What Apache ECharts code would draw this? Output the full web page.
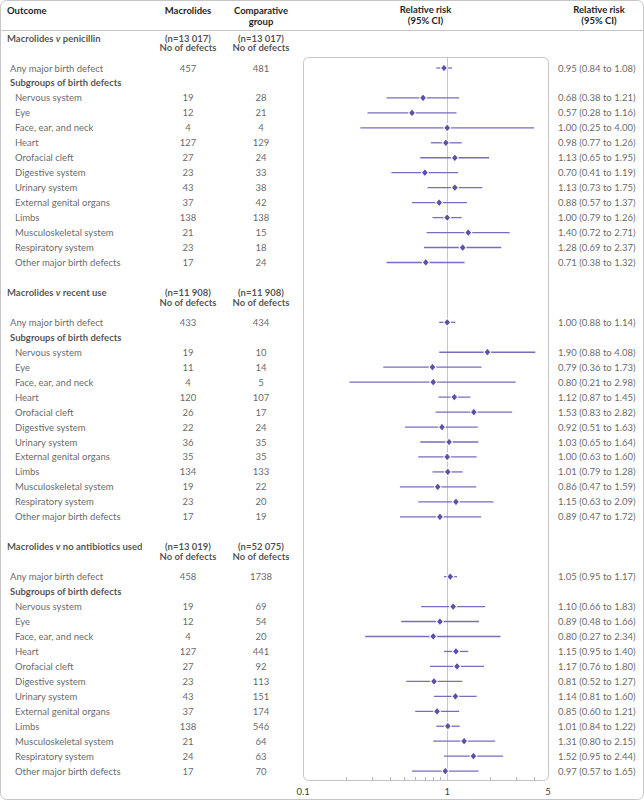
<!DOCTYPE html>
<html><head><meta charset="utf-8">
<script src="https://cdn.jsdelivr.net/npm/echarts@6/dist/echarts.min.js"></script>
<style>html,body{margin:0;padding:0;background:#fff}#c{width:644px;height:800px}</style>
</head><body><div id="c"></div>
<script>
// ---------------- DATA ----------------
const columnHeaders = ['Outcome', 'Macrolides', 'Comparative\ngroup', 'Relative risk\n(95% CI)', 'Relative risk\n(95% CI)'];
const sectionTitles = ['penicillin', 'recent use', 'no antibiotics used'];
const nMacrolides = ['13 017', '11 908', '13 019'];
const nComparative = ['13 017', '11 908', '52 075'];
const outcomes = ['Any major birth defect', 'Subgroups of birth defects', 'Nervous system', 'Eye',
  'Face, ear, and neck', 'Heart', 'Orofacial cleft', 'Digestive system', 'Urinary system',
  'External genital organs', 'Limbs', 'Musculoskeletal system', 'Respiratory system', 'Other major birth defects'];

// Macrolides v penicillin
const penMacro = [457, null, 19, 12, 4, 127, 27, 23, 43, 37, 138, 21, 23, 17];
const penComp  = [481, null, 28, 21, 4, 129, 24, 33, 38, 42, 138, 15, 18, 24];
const penRR = [0.95, null, 0.68, 0.57, 1.00, 0.98, 1.13, 0.70, 1.13, 0.88, 1.00, 1.40, 1.28, 0.71];
const penLo = [0.84, null, 0.38, 0.28, 0.25, 0.77, 0.65, 0.41, 0.73, 0.57, 0.79, 0.72, 0.69, 0.38];
const penHi = [1.08, null, 1.21, 1.16, 4.00, 1.26, 1.95, 1.19, 1.75, 1.37, 1.26, 2.71, 2.37, 1.32];

// Macrolides v recent use
const recMacro = [433, null, 19, 11, 4, 120, 26, 22, 36, 35, 134, 19, 23, 17];
const recComp  = [434, null, 10, 14, 5, 107, 17, 24, 35, 35, 133, 22, 20, 19];
const recRR = [1.00, null, 1.90, 0.79, 0.80, 1.12, 1.53, 0.92, 1.03, 1.00, 1.01, 0.86, 1.15, 0.89];
const recLo = [0.88, null, 0.88, 0.36, 0.21, 0.87, 0.83, 0.51, 0.65, 0.63, 0.79, 0.47, 0.63, 0.47];
const recHi = [1.14, null, 4.08, 1.73, 2.98, 1.45, 2.82, 1.63, 1.64, 1.60, 1.28, 1.59, 2.09, 1.72];

// Macrolides v no antibiotics used
const noaMacro = [458, null, 19, 12, 4, 127, 27, 23, 43, 37, 138, 21, 24, 17];
const noaComp  = [1738, null, 69, 54, 20, 441, 92, 113, 151, 174, 546, 64, 63, 70];
const noaRR = [1.05, null, 1.10, 0.89, 0.80, 1.15, 1.17, 0.81, 1.14, 0.85, 1.01, 1.31, 1.52, 0.97];
const noaLo = [0.95, null, 0.66, 0.48, 0.27, 0.95, 0.76, 0.52, 0.81, 0.60, 0.84, 0.80, 0.95, 0.57];
const noaHi = [1.17, null, 1.83, 1.66, 2.34, 1.40, 1.80, 1.27, 1.60, 1.21, 1.22, 2.15, 2.44, 1.65];

const axisTickLabels = [0.1, 1, 5];
const minorTickValues = [0.2, 0.3, 0.4, 0.5, 0.6, 0.7, 0.8, 0.9, 2, 3, 4];

// ---------------- LAYOUT / STYLE ----------------
const FONT = 'Lato';
const FS = 9.5;
const TXT = '#3d3d3d', BOLD = '#1f1f1f';
const LINE_C = '#7a6bc1', DOT_C = '#5f4fa8';
const GRAY = '#c6c6c6';
const W = 644, H = 800;
const ROW_Y0 = 68, ROW_H = 14.96;
const PLOT = { left: 303, top: 57, width: 245, height: 723 };
const SECTION_ROWS = 17;
const slotAt = y => (y - ROW_Y0) / ROW_H;
const COL = { title: 7, outcome: 10, sub: 15, macro: 188, comp: 261, ci: 558 };

const sections = [
  { title: sectionTitles[0], nM: nMacrolides[0], nC: nComparative[0], macro: penMacro, comp: penComp, rr: penRR, lo: penLo, hi: penHi },
  { title: sectionTitles[1], nM: nMacrolides[1], nC: nComparative[1], macro: recMacro, comp: recComp, rr: recRR, lo: recLo, hi: recHi },
  { title: sectionTitles[2], nM: nMacrolides[2], nC: nComparative[2], macro: noaMacro, comp: noaComp, rr: noaRR, lo: noaLo, hi: noaHi }
];

const ciData = [], rrData = [];
const leftItems = [], centerItems = [], ciTextItems = [], nItems = [];
sections.forEach((s, si) => {
  const base = si * SECTION_ROWS;
  leftItems.push({ x: COL.title, slot: base - 2, text: '{b|Macrolides }{bi|v}{b| ' + s.title + '}' });
  nItems.push({ x: COL.macro, slot: base - 2, text: '{n|(n=' + s.nM + ')}\n{n|No of defects}' });
  nItems.push({ x: COL.comp, slot: base - 2, text: '{n|(n=' + s.nC + ')}\n{n|No of defects}' });
  outcomes.forEach((o, r) => {
    const slot = base + r;
    if (r === 1) { leftItems.push({ x: COL.outcome, slot, text: '{b|' + o + '}' }); return; }
    leftItems.push({ x: r === 0 ? COL.outcome : COL.sub, slot, text: '{r|' + o + '}' });
    centerItems.push({ x: COL.macro, slot, text: String(s.macro[r]) });
    centerItems.push({ x: COL.comp, slot, text: String(s.comp[r]) });
    ciTextItems.push({ x: COL.ci, slot, text: s.rr[r].toFixed(2) + ' (' + s.lo[r].toFixed(2) + ' to ' + s.hi[r].toFixed(2) + ')' });
    ciData.push([s.lo[r], s.hi[r], slot]);
    rrData.push([s.rr[r], slot]);
  });
});

const rich = {
  r: { fontFamily: FONT, fontSize: FS, color: TXT },
  b: { fontFamily: FONT, fontSize: FS, color: BOLD, fontWeight: 'bold' },
  bi: { fontFamily: FONT, fontSize: FS, color: BOLD, fontWeight: 'bold', fontStyle: 'italic' },
  n: { fontFamily: FONT, fontSize: FS, color: BOLD, fontWeight: 'bold', lineHeight: 9.6, align: 'center' }
};

function textSeries(items, labelOpts) {
  return {
    type: 'scatter', xAxisIndex: 1, yAxisIndex: 1, symbolSize: 0, silent: true, clip: false, z: 5,
    data: items.map(it => [it.x, it.slot]),
    label: Object.assign({ show: true, formatter: p => items[p.dataIndex].text, rich,
      fontFamily: FONT, fontSize: FS, color: TXT }, labelOpts)
  };
}

const chart = echarts.init(document.getElementById('c'), null, { renderer: 'svg' });
chart.setOption({
  animation: false,
  backgroundColor: '#fff',
  grid: [
    { left: PLOT.left, top: PLOT.top, width: PLOT.width, height: PLOT.height },
    { left: 0, top: 0, width: W, height: H }
  ],
  xAxis: [
    { gridIndex: 0, type: 'log', logBase: 10, min: 0.1, max: 5, position: 'bottom',
      axisLine: { show: false, onZero: false }, splitLine: { show: false },
      axisTick: { show: true, inside: true, length: 3, customValues: minorTickValues, lineStyle: { color: '#b5b5b5' } },
      axisLabel: { customValues: axisTickLabels, formatter: v => String(v), margin: 6,
        fontFamily: FONT, fontSize: FS, color: TXT } },
    { gridIndex: 1, type: 'value', min: 0, max: W, show: false }
  ],
  yAxis: [
    { gridIndex: 0, type: 'value', inverse: true, min: slotAt(PLOT.top), max: slotAt(PLOT.top + PLOT.height), show: false },
    { gridIndex: 1, type: 'value', inverse: true, min: slotAt(0), max: slotAt(H), show: false }
  ],
  graphic: [
    { type: 'rect', shape: { x: 0.5, y: 0.5, width: W - 1, height: H - 1, r: 6 }, style: { fill: 'none', stroke: GRAY, lineWidth: 1 }, silent: true, z: 0 },
    { type: 'line', shape: { x1: 0, y1: 30.5, x2: W, y2: 30.5 }, style: { stroke: GRAY, lineWidth: 1 }, silent: true },
    { type: 'rect', shape: { x: PLOT.left + 0.5, y: PLOT.top + 0.5, width: PLOT.width, height: PLOT.height, r: 5 }, style: { fill: 'none', stroke: GRAY, lineWidth: 1 }, silent: true, z: 0 },
    { type: 'text', x: 7, y: 10, style: { text: columnHeaders[0], font: 'bold ' + FS + 'px ' + FONT, fill: BOLD, textAlign: 'left', textVerticalAlign: 'middle' } },
    { type: 'text', x: COL.macro, y: 10, style: { text: columnHeaders[1], font: 'bold ' + FS + 'px ' + FONT, fill: BOLD, textAlign: 'center', textVerticalAlign: 'middle' } },
    { type: 'text', x: COL.comp, y: 4.5, style: { text: columnHeaders[2], font: 'bold ' + FS + 'px ' + FONT, fill: BOLD, textAlign: 'center', textVerticalAlign: 'top', lineHeight: 11 } },
    { type: 'text', x: PLOT.left + PLOT.width / 2, y: 4.5, style: { text: columnHeaders[3], font: 'bold ' + FS + 'px ' + FONT, fill: BOLD, textAlign: 'center', textVerticalAlign: 'top', lineHeight: 10.5 } },
    { type: 'text', x: 599, y: 4.5, style: { text: columnHeaders[4], font: 'bold ' + FS + 'px ' + FONT, fill: BOLD, textAlign: 'center', textVerticalAlign: 'top', lineHeight: 10.5 } }
  ],
  series: [
    { type: 'custom', xAxisIndex: 0, yAxisIndex: 0, silent: true, z: 1, data: [[1]],
      renderItem: (params, api) => {
        const p = api.coord([api.value(0), slotAt(PLOT.top)]);
        const cs = params.coordSys;
        return { type: 'line', shape: { x1: Math.round(p[0]) + 0.5, y1: cs.y, x2: Math.round(p[0]) + 0.5, y2: cs.y + cs.height },
          style: { stroke: GRAY, lineWidth: 1 } };
      } },
    { type: 'custom', xAxisIndex: 0, yAxisIndex: 0, silent: true, z: 2, data: ciData,
      encode: { x: [0, 1], y: 2 },
      renderItem: (params, api) => {
        const a = api.coord([api.value(0), api.value(2)]);
        const b = api.coord([api.value(1), api.value(2)]);
        return { type: 'line', shape: { x1: a[0], y1: a[1], x2: b[0], y2: b[1] },
          style: { stroke: LINE_C, lineWidth: 1.3 } };
      } },
    { type: 'scatter', xAxisIndex: 0, yAxisIndex: 0, silent: true, z: 3, data: rrData,
      symbol: 'diamond', symbolSize: [7, 8],
      itemStyle: { color: DOT_C, borderColor: '#fff', borderWidth: 1, opacity: 1 } },
    textSeries(leftItems, { position: 'right', distance: 0 }),
    textSeries(centerItems, { position: 'inside' }),
    textSeries(ciTextItems, { position: 'right', distance: 0 }),
    textSeries(nItems, { position: 'inside', offset: [0, 4.8] })
  ]
});
</script>
</body></html>
